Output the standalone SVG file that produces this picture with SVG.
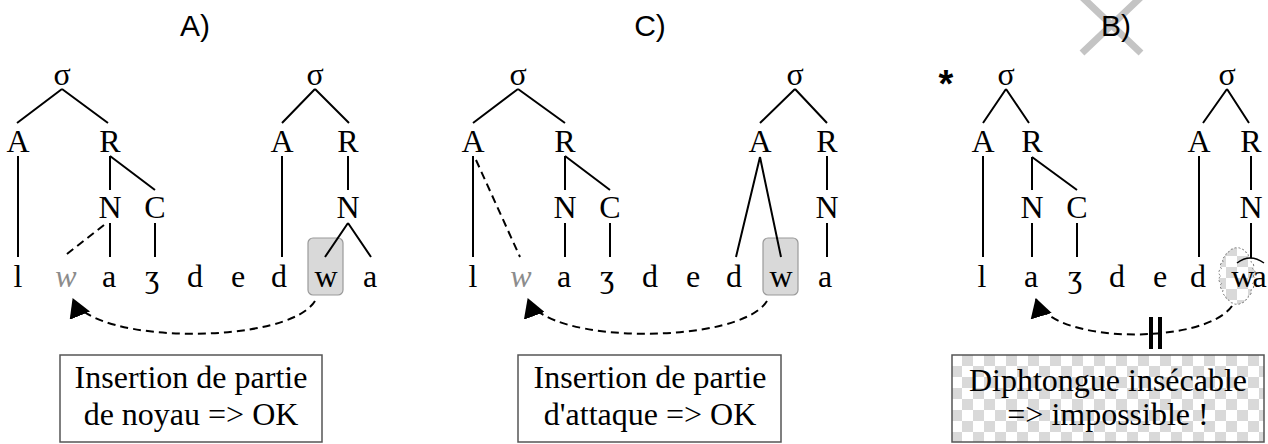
<svg xmlns="http://www.w3.org/2000/svg" width="1268" height="444" viewBox="0 0 1268 444">
<style>
.t{font-family:"Liberation Serif","DejaVu Serif",serif;font-size:32px;text-anchor:middle;fill:#000}
.g{fill:#8c8c8c;font-style:italic}
.ti{font-family:"Liberation Sans","DejaVu Sans",sans-serif;font-size:30px;text-anchor:middle;fill:#000}
.ln{stroke:#000;stroke-width:2;fill:none}
.da{stroke:#000;stroke-width:2;fill:none;stroke-dasharray:8,5}
.hl{fill:#d9d9d9;stroke:#9a9a9a;stroke-width:1.2}
.bx{fill:#fff;stroke:#555;stroke-width:1.5}
.bt{font-family:"Liberation Serif","DejaVu Serif",serif;font-size:32px;text-anchor:middle;fill:#000}
</style>
<defs>
<marker id="arr" viewBox="0 0 19 22" refX="18" refY="11" markerWidth="19" markerHeight="22" markerUnits="userSpaceOnUse" orient="auto"><path d="M0,0 L19,11 L0,22 z" fill="#000"/></marker>
<pattern id="chk" x="16" y="355" width="22" height="22" patternUnits="userSpaceOnUse"><rect width="22" height="22" fill="#fff"/><rect width="11" height="11" fill="#d9d9d9"/><rect x="11" y="11" width="11" height="11" fill="#d9d9d9"/></pattern>
</defs>

<!-- titles -->
<g id="title-A"><text class="ti" x="195" y="36">A)</text></g>
<g id="title-C"><text class="ti" x="650" y="36">C)</text></g>
<g id="title-B">
<path d="M1082,-3 L1141,53 M1141,-3 L1082,53" stroke="#c4c4c4" stroke-width="7" fill="none"/>
<text class="ti" x="1116" y="36">B)</text>
</g>
<g id="star"><text x="946" y="97" font-family="Liberation Sans,DejaVu Sans,sans-serif" font-size="38" font-weight="bold" text-anchor="middle">*</text></g>

<!-- highlights behind text -->
<g id="hl-A"><rect class="hl" x="308" y="238" width="35" height="57" rx="5"/></g>
<g id="hl-C"><rect class="hl" x="763" y="238" width="35" height="57" rx="5"/></g>
<g id="cloud-B"><path d="M1253,276 A4,4 0 0 1 1252.5,283.3 A4,4 0 0 1 1250.9,290 A4,4 0 0 1 1248.3,295.8 A4,4 0 0 1 1245,300.2 A4,4 0 0 1 1241.1,303 A4,4 0 0 1 1237,304 A4,4 0 0 1 1232.9,303 A4,4 0 0 1 1229,300.2 A4,4 0 0 1 1225.7,295.8 A4,4 0 0 1 1223.1,290 A4,4 0 0 1 1221.5,283.3 A4,4 0 0 1 1221,276 A4,4 0 0 1 1221.5,268.7 A4,4 0 0 1 1223.1,262 A4,4 0 0 1 1225.7,256.2 A4,4 0 0 1 1229,251.8 A4,4 0 0 1 1232.9,249 A4,4 0 0 1 1237,248 A4,4 0 0 1 1241.1,249 A4,4 0 0 1 1245,251.8 A4,4 0 0 1 1248.3,256.2 A4,4 0 0 1 1250.9,262 A4,4 0 0 1 1252.5,268.7 A4,4 0 0 1 1253,276 Z" fill="url(#chk)" stroke="#777" stroke-width="1" stroke-dasharray="2,2"/></g>

<!-- connectors -->
<g id="connectors">
<!-- panel A -->
<path class="ln" d="M62,89 L17,123 M62,89 L108,123"/>
<path class="ln" d="M18,156 L18,257"/>
<path class="ln" d="M110,156 L110,190 M110,156 L155,190"/>
<path class="ln" d="M110,223 L110,257"/>
<path class="da" d="M104,225 L63,257"/>
<path class="ln" d="M155,223 L155,257"/>
<path class="ln" d="M315,89 L282,123 M315,89 L349,123"/>
<path class="ln" d="M282,156 L282,257"/>
<path class="ln" d="M348,156 L348,190"/>
<path class="ln" d="M348,223 L325,257 M348,223 L371,257"/>
<path class="da" d="M315,301 C288,345 92,345 73,299" marker-end="url(#arr)"/>
<!-- panel C -->
<path class="ln" d="M518,89 L473,123 M518,89 L565,123"/>
<path class="ln" d="M473,156 L473,257"/>
<path class="da" d="M476,160 L520,257"/>
<path class="ln" d="M565,156 L565,190 M565,156 L610,190"/>
<path class="ln" d="M565,223 L565,257"/>
<path class="ln" d="M610,223 L610,257"/>
<path class="ln" d="M795,89 L760,123 M795,89 L827,123"/>
<path class="ln" d="M760,157 L736,257 M760,157 L781,257"/>
<path class="ln" d="M827,156 L827,190"/>
<path class="ln" d="M827,223 L827,257"/>
<path class="da" d="M767,301 C740,345 545,345 528,299" marker-end="url(#arr)"/>
<!-- panel B -->
<path class="ln" d="M1006,89 L983,123 M1006,89 L1029,123"/>
<path class="ln" d="M983,156 L983,257"/>
<path class="ln" d="M1032,157 L1032,190 M1032,157 L1077,190"/>
<path class="ln" d="M1032,223 L1032,257"/>
<path class="ln" d="M1077,223 L1077,257"/>
<path class="ln" d="M1227,89 L1203,123 M1227,89 L1249,123"/>
<path class="ln" d="M1199,156 L1199,257"/>
<path class="ln" d="M1251,156 L1251,190"/>
<path class="ln" d="M1251,223 L1251,258"/>
<path d="M1237,263 Q1250,253 1264,263" stroke="#000" stroke-width="1.5" fill="none"/>
<path class="da" d="M1232,306 C1205,345 1050,345 1036,299" marker-end="url(#arr)"/>
<rect x="1149" y="317" width="4" height="32" fill="#000"/>
<rect x="1158" y="317" width="4" height="32" fill="#000"/>
</g>

<!-- panel A nodes -->
<g id="A-s1"><text class="t" x="62" y="85">σ</text></g>
<g id="A-A1"><text class="t" x="18" y="152">A</text></g>
<g id="A-R1"><text class="t" x="110" y="152">R</text></g>
<g id="A-N1"><text class="t" x="110" y="218">N</text></g>
<g id="A-C1"><text class="t" x="155" y="218">C</text></g>
<g id="A-s2"><text class="t" x="315" y="85">σ</text></g>
<g id="A-A2"><text class="t" x="282" y="152">A</text></g>
<g id="A-R2"><text class="t" x="348" y="152">R</text></g>
<g id="A-N2"><text class="t" x="348" y="218">N</text></g>
<g id="A-seg-l"><text class="t" x="18" y="287">l</text></g>
<g id="A-seg-w1"><text class="t g" x="66" y="287">w</text></g>
<g id="A-seg-a1"><text class="t" x="109" y="287">a</text></g>
<g id="A-seg-zh"><text class="t" x="152" y="287">ʒ</text></g>
<g id="A-seg-d1"><text class="t" x="195" y="287">d</text></g>
<g id="A-seg-e"><text class="t" x="238" y="287">e</text></g>
<g id="A-seg-d2"><text class="t" x="279" y="287">d</text></g>
<g id="A-seg-w2"><text class="t" x="326" y="287">w</text></g>
<g id="A-seg-a2"><text class="t" x="370" y="287">a</text></g>
<g id="A-box"><rect class="bx" x="60" y="355" width="262" height="87"/><text class="bt" x="191" y="388">Insertion de partie</text><text class="bt" x="191" y="425">de noyau =&gt; OK</text></g>

<!-- panel C nodes -->
<g id="C-s1"><text class="t" x="518" y="85">σ</text></g>
<g id="C-A1"><text class="t" x="473" y="152">A</text></g>
<g id="C-R1"><text class="t" x="565" y="152">R</text></g>
<g id="C-N1"><text class="t" x="565" y="218">N</text></g>
<g id="C-C1"><text class="t" x="610" y="218">C</text></g>
<g id="C-s2"><text class="t" x="795" y="85">σ</text></g>
<g id="C-A2"><text class="t" x="760" y="152">A</text></g>
<g id="C-R2"><text class="t" x="827" y="152">R</text></g>
<g id="C-N2"><text class="t" x="827" y="218">N</text></g>
<g id="C-seg-l"><text class="t" x="473" y="287">l</text></g>
<g id="C-seg-w1"><text class="t g" x="521" y="287">w</text></g>
<g id="C-seg-a1"><text class="t" x="564" y="287">a</text></g>
<g id="C-seg-zh"><text class="t" x="607" y="287">ʒ</text></g>
<g id="C-seg-d1"><text class="t" x="650" y="287">d</text></g>
<g id="C-seg-e"><text class="t" x="693" y="287">e</text></g>
<g id="C-seg-d2"><text class="t" x="734" y="287">d</text></g>
<g id="C-seg-w2"><text class="t" x="781" y="287">w</text></g>
<g id="C-seg-a2"><text class="t" x="825" y="287">a</text></g>
<g id="C-box"><rect class="bx" x="518" y="355" width="263" height="87"/><text class="bt" x="650" y="388">Insertion de partie</text><text class="bt" x="650" y="425">d'attaque =&gt; OK</text></g>

<!-- panel B nodes -->
<g id="B-s1"><text class="t" x="1006" y="85">σ</text></g>
<g id="B-A1"><text class="t" x="983" y="152">A</text></g>
<g id="B-R1"><text class="t" x="1032" y="152">R</text></g>
<g id="B-N1"><text class="t" x="1032" y="218">N</text></g>
<g id="B-C1"><text class="t" x="1077" y="218">C</text></g>
<g id="B-s2"><text class="t" x="1227" y="85">σ</text></g>
<g id="B-A2"><text class="t" x="1199" y="152">A</text></g>
<g id="B-R2"><text class="t" x="1251" y="152">R</text></g>
<g id="B-N2"><text class="t" x="1251" y="218">N</text></g>
<g id="B-seg-l"><text class="t" x="982" y="287">l</text></g>
<g id="B-seg-a1"><text class="t" x="1031" y="287">a</text></g>
<g id="B-seg-zh"><text class="t" x="1075" y="287">ʒ</text></g>
<g id="B-seg-d1"><text class="t" x="1117" y="287">d</text></g>
<g id="B-seg-e"><text class="t" x="1160" y="287">e</text></g>
<g id="B-seg-d2"><text class="t" x="1198" y="287">d</text></g>
<g id="B-seg-wa"><text class="t" x="1248" y="287" letter-spacing="-2">wa</text></g>
<g id="B-box"><rect x="952" y="355" width="312" height="87" fill="url(#chk)" stroke="#555" stroke-width="1.5"/><text class="bt" x="1108" y="391" font-size="29">Diphtongue insécable</text><text class="bt" x="1108" y="425" font-size="29">=&gt; impossible !</text></g>
</svg>
